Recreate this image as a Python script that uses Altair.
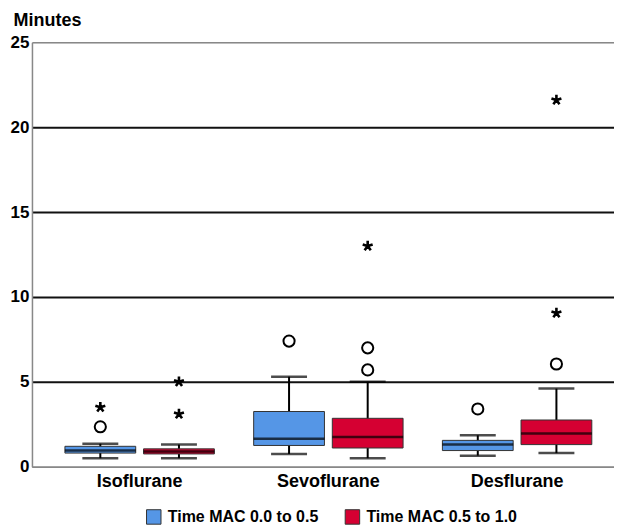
import altair as alt
import pandas as pd

agents = ["Isoflurane", "Sevoflurane", "Desflurane"]
groups = ["Time MAC 0.0 to 0.5", "Time MAC 0.5 to 1.0"]

# box statistics per (agent, group), in agent order then group order
box_agent = ["Isoflurane", "Isoflurane", "Sevoflurane", "Sevoflurane", "Desflurane", "Desflurane"]
box_group = [groups[0], groups[1]] * 3
whisker_low = [0.5, 0.5, 0.75, 0.5, 0.65, 0.8]
q1 = [0.8, 0.75, 1.25, 1.1, 0.95, 1.3]
median = [0.95, 0.9, 1.65, 1.75, 1.3, 1.95]
q3 = [1.2, 1.05, 3.25, 2.85, 1.55, 2.75]
whisker_high = [1.35, 1.3, 5.3, 5.0, 1.85, 4.6]

# outliers
out_agent = ["Isoflurane", "Isoflurane", "Isoflurane", "Isoflurane",
             "Sevoflurane", "Sevoflurane", "Sevoflurane", "Sevoflurane",
             "Desflurane", "Desflurane", "Desflurane", "Desflurane"]
out_group = [groups[0], groups[0], groups[1], groups[1],
             groups[0], groups[1], groups[1], groups[1],
             groups[0], groups[1], groups[1], groups[1]]
out_value = [2.35, 3.5, 3.1, 5.0,
             7.4, 7.0, 5.7, 13.0,
             3.4, 6.05, 9.05, 21.6]
out_kind = ["mild", "extreme", "extreme", "extreme",
            "mild", "mild", "mild", "extreme",
            "mild", "mild", "extreme", "extreme"]

colors = ["#5596e6", "#d50032"]

boxes = pd.DataFrame({"agent": box_agent, "group": box_group, "lo": whisker_low,
                      "q1": q1, "med": median, "q3": q3, "hi": whisker_high})
outs = pd.DataFrame({"agent": out_agent, "group": out_group, "value": out_value, "kind": out_kind})

FONT = "Liberation Sans"

x_enc = alt.X("agent:N", sort=agents, title=None,
              scale=alt.Scale(paddingInner=0, paddingOuter=0.042, align=0.84),
              axis=alt.Axis(labelAngle=0, labelFontSize=18, labelFontWeight="bold",
                            labelColor="black", labelFont=FONT, ticks=False,
                            labelPadding=6, domainColor="#888888", domainWidth=1.5))
xo_enc = alt.XOffset("group:N", sort=groups,
                     scale=alt.Scale(paddingInner=0.1, paddingOuter=0.25))
y_scale = alt.Scale(domain=[0, 25], nice=False)

base = alt.Chart(boxes)

whisk = base.mark_rule(color="black", strokeWidth=2).encode(
    x=x_enc, xOffset=xo_enc,
    y=alt.Y("lo:Q", scale=y_scale,
            axis=alt.Axis(values=[0, 5, 10, 15, 20, 25], title="Minutes", titleAngle=0,
                          titleAlign="left", titleX=-19, titleY=-13, titleFontSize=18,
                          titleFontWeight="bold", titleFont=FONT, titleColor="black",
                          labelFontSize=17, labelFontWeight="bold", labelFont=FONT,
                          labelColor="black", ticks=False, labelPadding=3,
                          domainColor="#888888", domainWidth=1.5,
                          grid=True,
                          gridColor=alt.condition("datum.value == 0 || datum.value == 25",
                                                  alt.value("#888888"), alt.value("#111111")),
                          gridWidth=alt.condition("datum.value == 0 || datum.value == 25",
                                                  alt.value(1.5), alt.value(2)))),
    y2="hi:Q",
)

box = base.mark_rect(stroke="#333333", strokeWidth=1).encode(
    x=x_enc, xOffset=xo_enc,
    y=alt.Y("q1:Q", scale=y_scale), y2="q3:Q",
    color=alt.Color("group:N", sort=groups,
                    scale=alt.Scale(domain=groups, range=colors),
                    legend=alt.Legend(title=None, orient="none", direction="horizontal",
                                      legendX=114, legendY=467,
                                      symbolType="square", symbolSize=210,
                                      symbolStrokeColor="#333333", symbolStrokeWidth=1,
                                      symbolOpacity=1, labelOffset=6,
                                      labelFontSize=16, labelFontWeight="bold",
                                      labelFont=FONT, labelColor="black",
                                      columnPadding=24)),
)

med = base.mark_tick(color="black", thickness=2.5, size=71, orient="horizontal").encode(
    x=x_enc, xOffset=xo_enc, y=alt.Y("med:Q", scale=y_scale))
cap_lo = base.mark_tick(color="black", thickness=2.5, size=36, orient="horizontal").encode(
    x=x_enc, xOffset=xo_enc, y=alt.Y("lo:Q", scale=y_scale))
cap_hi = base.mark_tick(color="black", thickness=2.5, size=36, orient="horizontal").encode(
    x=x_enc, xOffset=xo_enc, y=alt.Y("hi:Q", scale=y_scale))

star_path = "M0,0L0,-1M0,0L0.951,-0.309M0,0L0.588,0.809M0,0L-0.588,0.809M0,0L-0.951,-0.309"

circ = alt.Chart(outs).transform_filter("datum.kind == 'mild'").mark_point(
    shape="circle", filled=False, color="black", strokeWidth=2, size=125, opacity=1).encode(
    x=x_enc, xOffset=xo_enc, y=alt.Y("value:Q", scale=y_scale))
star = alt.Chart(outs).transform_filter("datum.kind == 'extreme'").mark_point(
    shape=star_path, filled=False, color="black", strokeWidth=2.6, size=110, opacity=1).encode(
    x=x_enc, xOffset=xo_enc, y=alt.Y("value:Q", scale=y_scale))

chart = alt.layer(whisk, box, med, cap_lo, cap_hi, circ, star).properties(
    width=583, height=425,
    padding={"left": 2, "top": 3, "right": 0, "bottom": 0},
).configure_view(strokeWidth=0).configure(background="white")

chart.save("out.html", embed_options={"renderer": "svg", "actions": False})
